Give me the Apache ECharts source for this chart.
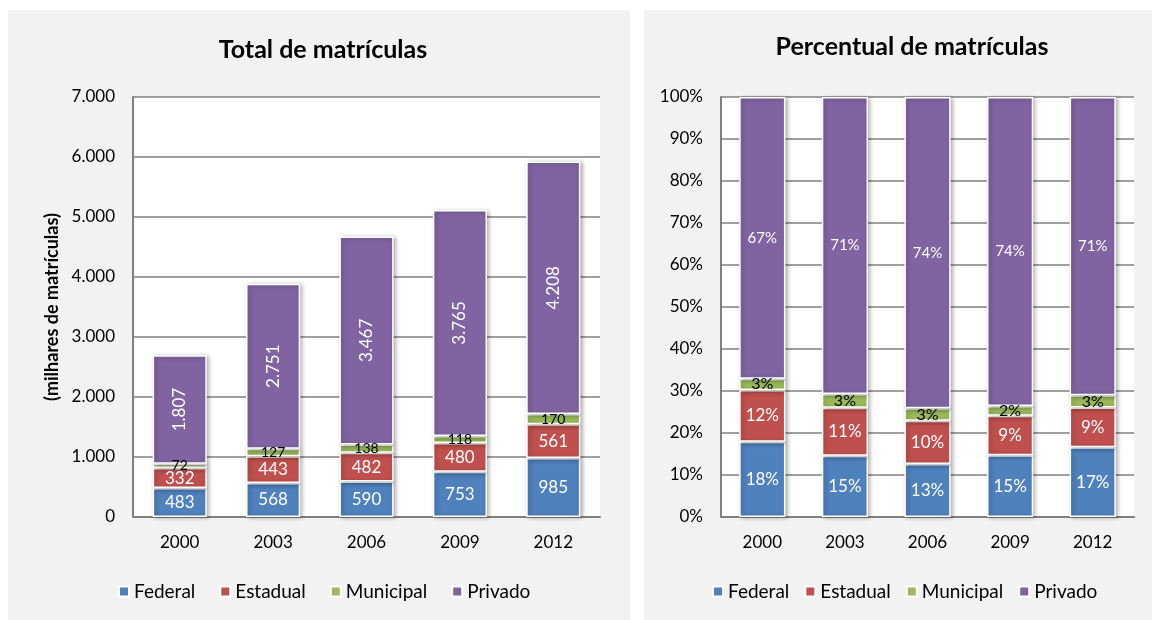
<!DOCTYPE html>
<html>
<head>
    <meta charset="UTF-8">
    <title>Matrículas</title>
    <script src="https://cdn.jsdelivr.net/npm/echarts@6/dist/echarts.min.js"></script>
    <style>
        body { margin: 0; background: #fff; }
    </style>
</head>
<body>
<div id="chart" style="width: 1152px; height: 620px;"></div>

<script>
    // dados (milhares de matrículas)
    const anos = ['2000', '2003', '2006', '2009', '2012'];
    const federal = [483, 568, 590, 753, 985];
    const estadual = [332, 443, 482, 480, 561];
    const municipal = [72, 127, 138, 118, 170];
    const privado = [1807, 2751, 3467, 3765, 4208];

    // participação percentual (%)
    const pctFederal = [17.93, 14.61, 12.61, 14.72, 16.63];
    const pctEstadual = [12.32, 11.39, 10.31, 9.38, 9.47];
    const pctMunicipal = [2.67, 3.27, 2.95, 2.31, 2.87];
    const pctPrivado = [67.08, 70.74, 74.13, 73.59, 71.03];

    const nomes = ['Federal', 'Estadual', 'Municipal', 'Privado'];
    const cores = ['#4F81BD', '#C0504D', '#9BBB59', '#8064A2'];

    const fonte = 'Lato, sans-serif';
    const milhar = v => String(v).replace(/\B(?=(\d{3})+(?!\d))/g, '.');

    function serie(nome, dados, idx, eixo, label) {
        return {
            name: nome,
            type: 'bar',
            stack: 'pilha' + eixo,
            xAxisIndex: eixo,
            yAxisIndex: eixo,
            barCategoryGap: eixo === 0 ? '42%' : '44%',
            data: dados,
            itemStyle: {
                color: cores[idx],
                borderColor: '#fff',
                borderWidth: 1.5,
                shadowColor: 'rgba(0,0,0,0.3)',
                shadowBlur: 4,
                shadowOffsetX: 2,
                shadowOffsetY: 1
            },
            label: Object.assign({
                show: true,
                position: 'inside',
                fontFamily: fonte,
                fontSize: 17,
                color: '#fff'
            }, label)
        };
    }

    const fmtTotal = p => milhar(p.value);
    const fmtPct = p => Math.round(p.value) + '%';

    const chart = echarts.init(document.getElementById('chart'));
    const option = {
        backgroundColor: '#fff',
        animation: false,
        textStyle: { fontFamily: fonte },
        graphic: [
            { type: 'rect', shape: { x: 8, y: 10, width: 622, height: 610 }, style: { fill: '#f2f2f2' }, z: -10 },
            { type: 'rect', shape: { x: 644, y: 10, width: 508, height: 610 }, style: { fill: '#f2f2f2' }, z: -10 }
        ],
        title: [
            {
                text: 'Total de matrículas',
                left: 318, top: 32, textAlign: 'center',
                textStyle: { fontFamily: fonte, fontSize: 25, fontWeight: 'bold', color: '#000' }
            },
            {
                text: 'Percentual de matrículas',
                left: 907, top: 29, textAlign: 'center',
                textStyle: { fontFamily: fonte, fontSize: 25, fontWeight: 'bold', color: '#000' }
            }
        ],
        legend: [
            {
                data: nomes, left: 113, top: 577, icon: 'rect',
                itemWidth: 10, itemHeight: 10, itemGap: 24,
                textStyle: { fontFamily: fonte, fontSize: 19, color: '#000' }
            },
            {
                data: nomes, left: 707, top: 577, icon: 'rect',
                itemWidth: 10, itemHeight: 10, itemGap: 15,
                textStyle: { fontFamily: fonte, fontSize: 19, color: '#000' }
            }
        ],
        grid: [
            { left: 133, top: 97, width: 467, height: 420, show: true, backgroundColor: '#fff', borderWidth: 0 },
            { left: 721, top: 97, width: 413, height: 420, show: true, backgroundColor: '#fff', borderWidth: 0 }
        ],
        xAxis: [0, 1].map(i => ({
            type: 'category',
            gridIndex: i,
            data: anos,
            axisLine: { lineStyle: { color: '#808080', width: 2 } },
            axisTick: { show: false },
            axisLabel: { color: '#000', fontSize: 17, margin: 17, fontFamily: fonte }
        })),
        yAxis: [
            {
                type: 'value', gridIndex: 0, min: 0, max: 7000, interval: 1000,
                name: '(milhares de matrículas)',
                nameLocation: 'middle', nameGap: 72,
                nameTextStyle: { fontFamily: fonte, fontSize: 18, fontWeight: 'bold', color: '#000' },
                axisLine: { show: true, lineStyle: { color: '#808080', width: 2 } },
                axisTick: { show: false },
                splitLine: { lineStyle: { color: '#808080', width: 1.5 } },
                axisLabel: { color: '#000', fontSize: 17, margin: 18, fontFamily: fonte, formatter: milhar }
            },
            {
                type: 'value', gridIndex: 1, min: 0, max: 100, interval: 10,
                axisLine: { show: true, lineStyle: { color: '#808080', width: 2 } },
                axisTick: { show: false },
                splitLine: { lineStyle: { color: '#808080', width: 1.5 } },
                axisLabel: { color: '#000', fontSize: 17, margin: 18, fontFamily: fonte, formatter: '{value}%' }
            }
        ],
        series: [
            serie('Federal', federal, 0, 0, { formatter: fmtTotal }),
            serie('Estadual', estadual, 1, 0, { formatter: fmtTotal }),
            serie('Municipal', municipal, 2, 0, { formatter: fmtTotal, color: '#000', fontSize: 14 }),
            serie('Privado', privado, 3, 0, { formatter: fmtTotal, rotate: 90, fontSize: 17 }),
            serie('Federal', pctFederal, 0, 1, { formatter: fmtPct }),
            serie('Estadual', pctEstadual, 1, 1, { formatter: fmtPct }),
            serie('Municipal', pctMunicipal, 2, 1, { formatter: fmtPct, color: '#000', fontSize: 16 }),
            serie('Privado', pctPrivado, 3, 1, { formatter: fmtPct, fontSize: 15 })
        ]
    };

    chart.setOption(option);
</script>
</body>
</html>
